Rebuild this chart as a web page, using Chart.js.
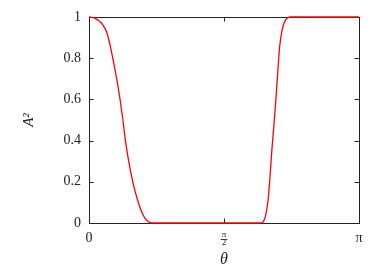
<!DOCTYPE html>
<html>
<head>
<meta charset="utf-8">
<script src="https://cdn.jsdelivr.net/npm/chart.js@4/dist/chart.umd.min.js"></script>
<style>
  html, body { margin: 0; padding: 0; background: #fff; }
  #wrap { width: 382px; height: 273px; }
</style>
</head>
<body>
<div id="wrap"><canvas id="chart" width="382" height="273"></canvas></div>
<script>
// theta in units of pi
var thetaOverPi = [0, 0.013, 0.026, 0.038, 0.051, 0.066, 0.077, 0.088, 0.104, 0.115, 0.125, 0.135, 0.147, 0.162, 0.181, 0.199, 0.212, 0.226, 0.24,
                   0.5,
                   0.636, 0.645, 0.653, 0.663, 0.669, 0.677, 0.687, 0.697, 0.706, 0.715, 0.724, 0.731, 0.737, 0.746, 1];
var amp2 = [1, 0.998, 0.991, 0.98, 0.962, 0.925, 0.87, 0.8, 0.69, 0.6, 0.506, 0.4, 0.3, 0.2, 0.107, 0.042, 0.015, 0.002, 0,
            0,
            0, 0.006, 0.03, 0.107, 0.2, 0.35, 0.51, 0.69, 0.855, 0.935, 0.976, 0.99, 0.997, 1, 1];
var xTicks = [0, 0.5, 1];
var xTickLabels = ["0", ["π", "2"], "π"];
var yTicks = [0, 0.2, 0.4, 0.6, 0.8, 1];
var yTickLabels = ["0", "0.2", "0.4", "0.6", "0.8", "1"];

var textColor = "#222";
var serif = "'Liberation Serif', 'DejaVu Serif', serif";

var points = [];
for (var i = 0; i < thetaOverPi.length; i++) {
    points.push({ x: thetaOverPi[i], y: amp2[i] });
}

// frame with inward ticks on all four sides (gnuplot look)
var framePlugin = {
    id: "frame",
    beforeDatasetsDraw: function (chart) {
        var ctx = chart.ctx;
        var a = chart.chartArea;
        var xs = chart.scales.x, ys = chart.scales.y;
        var len = 4.5;
        ctx.save();
        ctx.strokeStyle = textColor;
        ctx.lineWidth = 1;
        ctx.strokeRect(Math.round(a.left) + 0.5, Math.round(a.top) + 0.5,
                       Math.round(a.right - a.left), Math.round(a.bottom - a.top));
        ctx.beginPath();
        for (var i = 0; i < xTicks.length; i++) {
            var px = Math.round(xs.getPixelForValue(xTicks[i])) + 0.5;
            ctx.moveTo(px, a.bottom); ctx.lineTo(px, a.bottom - len);
            ctx.moveTo(px, a.top); ctx.lineTo(px, a.top + len);
        }
        for (var j = 0; j < yTicks.length; j++) {
            var py = Math.round(ys.getPixelForValue(yTicks[j])) + 0.5;
            ctx.moveTo(a.left, py); ctx.lineTo(a.left + len, py);
            ctx.moveTo(a.right, py); ctx.lineTo(a.right - len, py);
        }
        ctx.stroke();
        ctx.restore();
    },
    afterDraw: function (chart) {
        // fraction bar for the pi/2 label
        var ctx = chart.ctx;
        var xs = chart.scales.x;
        var px = xs.getPixelForValue(0.5);
        ctx.save();
        ctx.strokeStyle = textColor;
        ctx.lineWidth = 0.8;
        ctx.beginPath();
        ctx.moveTo(px - 3.5, 239.5);
        ctx.lineTo(px + 3.5, 239.5);
        ctx.stroke();
        ctx.restore();
    }
};

var ctx = document.getElementById("chart").getContext("2d");
var chart = new Chart(ctx, {
    type: "line",
    data: {
        datasets: [{
            data: points,
            borderColor: "#ff0000",
            borderWidth: 1.3,
            pointRadius: 0,
            fill: false,
            cubicInterpolationMode: "monotone",
            clip: 3
        }]
    },
    options: {
        responsive: false,
        animation: false,
        events: [],
        layout: { padding: { top: 17, right: 23, left: 0, bottom: 0 } },
        plugins: { legend: { display: false }, tooltip: { enabled: false } },
        scales: {
            x: {
                type: "linear",
                min: 0,
                max: 1,
                afterBuildTicks: function (s) {
                    s.ticks = xTicks.map(function (v) { return { value: v }; });
                },
                afterFit: function (s) { s.height = 50; },
                grid: { display: false, drawTicks: false },
                border: { display: false },
                ticks: {
                    maxRotation: 0,
                    autoSkip: false,
                    padding: 7,
                    color: textColor,
                    font: function (c) {
                        if (c.index === 1) return { family: serif, size: 9, lineHeight: 0.95 };
                        return { family: serif, size: 14 };
                    },
                    callback: function (v, idx) { return xTickLabels[idx]; }
                },
                title: {
                    display: true,
                    text: "θ",
                    color: textColor,
                    font: { family: serif, size: 16, style: "italic" },
                    padding: { top: 0, bottom: 4 }
                }
            },
            y: {
                min: 0,
                max: 1,
                afterBuildTicks: function (s) {
                    s.ticks = yTicks.map(function (v) { return { value: v }; });
                },
                afterFit: function (s) { s.width = 89; },
                grid: { display: false, drawTicks: false },
                border: { display: false },
                ticks: {
                    padding: 8,
                    color: textColor,
                    font: { family: serif, size: 14 },
                    callback: function (v, idx) { return yTickLabels[idx]; }
                },
                title: {
                    display: true,
                    text: "A²",
                    color: textColor,
                    font: { family: serif, size: 15, style: "italic" },
                    padding: { top: 20, bottom: 0 }
                }
            }
        }
    },
    plugins: [framePlugin]
});
</script>
</body>
</html>
